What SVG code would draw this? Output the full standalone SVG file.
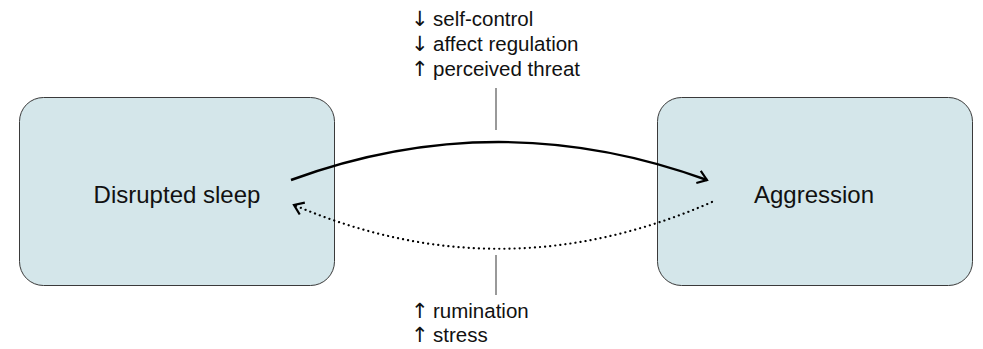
<svg xmlns="http://www.w3.org/2000/svg" width="983" height="349" viewBox="0 0 983 349">
<style>
.node{fill:#d4e6ea;stroke:#3a3a3a;stroke-width:1}
.nt{font-family:"Liberation Sans",Arial,sans-serif;font-size:24px;fill:#111;text-anchor:middle}
.lt{font-family:"Liberation Sans",Arial,sans-serif;font-size:20.5px;fill:#111}
.ar{font-family:"DejaVu Sans",sans-serif;font-size:21px;fill:#111}
.tick{stroke:#555;stroke-width:1.2}
</style>
<defs>
<marker id="head" markerWidth="16" markerHeight="16" refX="12" refY="8" orient="auto" markerUnits="userSpaceOnUse">
<path d="M3,1.5 L12,8 L3,14.5" fill="none" stroke="#000" stroke-width="2.2"/>
</marker>
</defs>
<rect width="983" height="349" fill="#fff"/>
<g id="node-disrupted-sleep">
<rect class="node" x="19.5" y="97.5" width="315" height="188" rx="24"/>
<text class="nt" x="177" y="203">Disrupted sleep</text>
</g>
<g id="node-aggression">
<rect class="node" x="657.5" y="97.5" width="315" height="188" rx="24"/>
<text class="nt" x="814" y="203">Aggression</text>
</g>
<g id="connectors">
<path d="M291,180 Q498,104 707,180" fill="none" stroke="#000" stroke-width="2.4" marker-end="url(#head)"/>
<path d="M712,202 Q502,294 294,205" fill="none" stroke="#000" stroke-width="2.2" stroke-dasharray="0.1 5" stroke-linecap="round" marker-end="url(#head)"/>
<line class="tick" x1="496" y1="88" x2="496" y2="130"/>
<line class="tick" x1="496" y1="255" x2="496" y2="295"/>
</g>
<g id="labels-top">
<text class="ar" x="411" y="26">↓</text><text class="lt" x="433" y="26">self-control</text>
<text class="ar" x="411" y="51">↓</text><text class="lt" x="433" y="51">affect regulation</text>
<text class="ar" x="411" y="76">↑</text><text class="lt" x="433" y="76">perceived threat</text>
</g>
<g id="labels-bottom">
<text class="ar" x="411" y="318">↑</text><text class="lt" x="433" y="318">rumination</text>
<text class="ar" x="411" y="342">↑</text><text class="lt" x="433" y="342">stress</text>
</g>
</svg>
